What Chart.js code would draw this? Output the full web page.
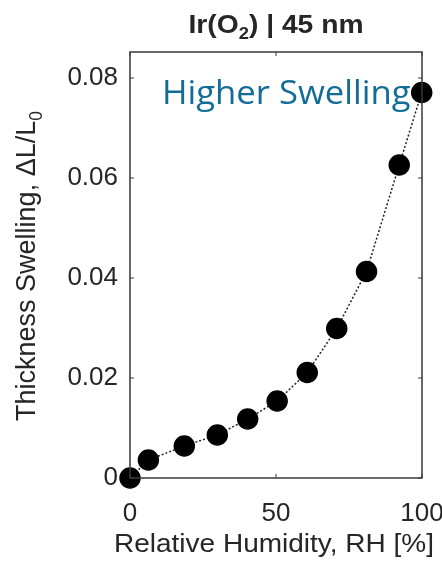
<!DOCTYPE html>
<html>
<head>
<meta charset="utf-8">
<script src="https://cdn.jsdelivr.net/npm/chart.js@4.4.1/dist/chart.umd.min.js"></script>
<style>
  body { margin: 0; background: #fff; }
  #wrap { width: 442px; height: 561px; position: relative; }
</style>
</head>
<body>
<div id="wrap"><canvas id="swellChart"></canvas></div>
<script>
// values
const rhValues = [0, 6.3, 18.6, 29.9, 40.3, 50.4, 60.7, 70.8, 81.0, 92.2, 99.9];
const swellingValues = [0, 0.0036, 0.0064, 0.0086, 0.0118, 0.0154, 0.0211, 0.0299, 0.0413, 0.0626, 0.0771];
const xTicks = [0, 50, 100];
const yTicks = [0, 0.02, 0.04, 0.06, 0.08];
const yTickLabels = ['0', '0.02', '0.04', '0.06', '0.08'];

const textColor = '#262626';
const frameColor = '#3a3a3a';
const fontFamily = '"Liberation Sans", Arial, sans-serif';

// text with a subscript part: [[text, isSub], ...], centred on x, stretched by hs
function drawRich(ctx, parts, x, y, size, bold, hs) {
  const fontFor = p => (bold ? 'bold ' : '') + (p[1] ? size * 0.65 : size) + 'px ' + fontFamily;
  const w = parts.reduce((s, p) => { ctx.font = fontFor(p); return s + ctx.measureText(p[0]).width; }, 0);
  ctx.save();
  ctx.translate(x, y);
  ctx.scale(hs, 1);
  let cx = -w / 2;
  parts.forEach(p => {
    ctx.font = fontFor(p);
    ctx.fillText(p[0], cx, p[1] ? size * 0.25 : 0);
    cx += ctx.measureText(p[0]).width;
  });
  ctx.restore();
}

const framePlugin = {
  id: 'frame',
  afterDraw(chart) {
    const ctx = chart.ctx;
    const a = chart.chartArea;
    const xs = chart.scales.x, ys = chart.scales.y;
    ctx.save();
    ctx.strokeStyle = frameColor;
    ctx.lineWidth = 1.5;
    ctx.strokeRect(a.left, a.top, a.right - a.left, a.bottom - a.top);
    ctx.lineWidth = 1;
    ctx.beginPath();
    xTicks.forEach(v => {
      const px = xs.getPixelForValue(v);
      ctx.moveTo(px, a.bottom); ctx.lineTo(px, a.bottom - 4);
      ctx.moveTo(px, a.top); ctx.lineTo(px, a.top + 4);
    });
    yTicks.forEach(v => {
      const py = ys.getPixelForValue(v);
      ctx.moveTo(a.left, py); ctx.lineTo(a.left + 4, py);
      ctx.moveTo(a.right, py); ctx.lineTo(a.right - 4, py);
    });
    ctx.stroke();

    // titles
    ctx.fillStyle = textColor;
    ctx.textBaseline = 'alphabetic';
    ctx.textAlign = 'left';
    drawRich(ctx, [['Ir(O', false], ['2', true], [') | 45 nm', false]], 276, 33, 25, true, 1.13);
    drawRich(ctx, [['Relative Humidity, RH [%]', false]], 274, 552, 25, false, 1.12);
    ctx.save();
    ctx.translate(35, 266);
    ctx.rotate(-Math.PI / 2);
    drawRich(ctx, [['Thickness Swelling, \u0394L/L', false], ['0', true]], 0, 0, 27, false, 1);
    ctx.restore();

    // annotation
    ctx.fillStyle = '#136c98';
    ctx.font = '33px "Open Sans", "Noto Sans", sans-serif';
    ctx.save();
    ctx.translate(162, 104);
    ctx.scale(1.05, 1);
    ctx.fillText('Higher Swelling', 0, 0);
    ctx.restore();
    ctx.restore();
  }
};

new Chart(document.getElementById('swellChart'), {
  type: 'scatter',
  data: {
    datasets: [{
      data: rhValues.map((x, i) => ({ x: x, y: swellingValues[i] })),
      showLine: true,
      borderColor: '#222',
      borderWidth: 1.5,
      borderDash: [2, 2],
      backgroundColor: '#000',
      pointBackgroundColor: '#000',
      pointBorderColor: '#000',
      pointRadius: 10,
      pointHoverRadius: 10,
      clip: false
    }]
  },
  options: {
    responsive: true,
    maintainAspectRatio: false,
    animation: false,
    layout: { padding: { top: 52, right: 20, left: 0, bottom: 0 } },
    plugins: { legend: { display: false }, tooltip: { enabled: false } },
    scales: {
      x: {
        type: 'linear',
        min: 0,
        max: 100,
        afterBuildTicks: s => { s.ticks = xTicks.map(v => ({ value: v })); },
        afterFit: s => { s.height = 83; s.paddingLeft = 0; s.paddingRight = 0; },
        grid: { display: false, drawTicks: false },
        border: { display: false },
        ticks: {
          color: textColor,
          padding: 20,
          maxRotation: 0,
          font: { family: fontFamily, size: 26 },
          callback: v => String(v)
        }
      },
      y: {
        type: 'linear',
        min: 0,
        max: 0.0852,
        afterBuildTicks: s => { s.ticks = yTicks.map(v => ({ value: v })); },
        afterFit: s => { s.width = 130; s.paddingTop = 0; s.paddingBottom = 0; },
        grid: { display: false, drawTicks: false },
        border: { display: false },
        ticks: {
          color: textColor,
          padding: 12,
          font: { family: fontFamily, size: 26 },
          callback: v => yTickLabels[yTicks.indexOf(v)] ?? ''
        }
      }
    }
  },
  plugins: [framePlugin]
});
</script>
</body>
</html>
